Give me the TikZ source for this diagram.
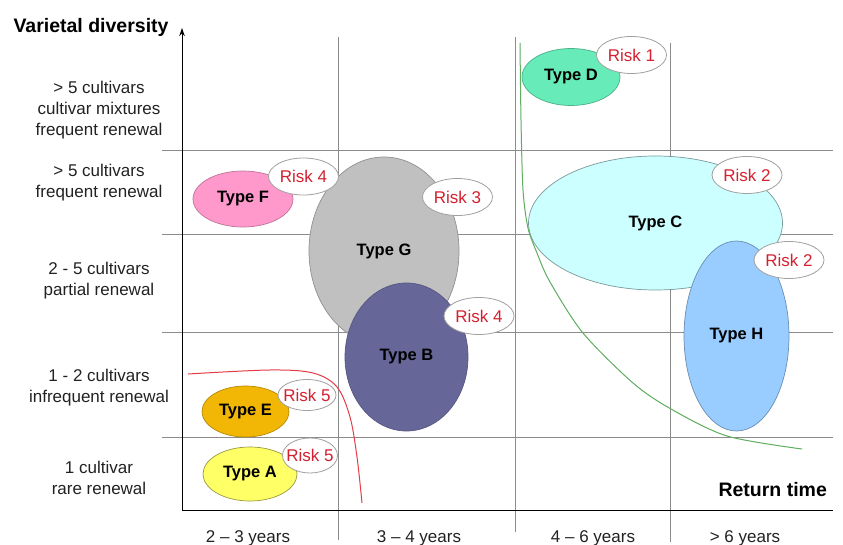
\documentclass[tikz,border=0pt]{standalone}
\usepackage{fontspec}
\setmainfont{Liberation Sans}
\usetikzlibrary{shapes.geometric,arrows.meta}
\definecolor{typeD}{HTML}{66EBB9}
\definecolor{typeC}{HTML}{CCFFFF}
\definecolor{typeH}{HTML}{99CCFF}
\definecolor{typeF}{HTML}{FF99CC}
\definecolor{typeG}{HTML}{C0C0C0}
\definecolor{typeB}{HTML}{666699}
\definecolor{typeE}{HTML}{F2B705}
\definecolor{typeA}{HTML}{FFFF66}
\definecolor{riskred}{HTML}{D4202F}
\definecolor{riskedge}{HTML}{A0A0A0}
\definecolor{redcurve}{HTML}{E43C46}
\definecolor{greencurve}{HTML}{5FAD5F}
\definecolor{gridgray}{HTML}{8C8C8C}
\definecolor{labelgray}{HTML}{222222}
\newcommand{\mb}[1]{\makebox[0pt]{#1}}
\begin{document}
\begin{tikzpicture}[x=1pt,y=-1pt,
  gridline/.style={draw=gridgray,line width=0.9pt},
  axisline/.style={draw=black,line width=1pt},
  typebox/.style={ellipse,inner sep=0pt,line width=0.7pt,text=black,
    font=\fontsize{16.5}{18}\selectfont\bfseries},
  riskbox/.style={ellipse,inner sep=0pt,fill=white,draw=riskedge,line width=0.8pt,
    text=riskred,font=\fontsize{17}{19}\selectfont,minimum width=70pt,minimum height=37pt},
  rowlabel/.style={align=center,text=labelgray,font=\fontsize{17}{21}\selectfont},
  collabel/.style={anchor=base,text=labelgray,font=\fontsize{17}{21}\selectfont},
  titlelabel/.style={anchor=base west,text=black,font=\fontsize{19.5}{22}\selectfont\bfseries}]
\useasboundingbox[fill=white] (0,0) rectangle (843,545);

% grid
\draw[gridline] (162,150) -- (833,150);
\draw[gridline] (162,234) -- (833,234);
\draw[gridline] (162,332) -- (833,332);
\draw[gridline] (162,437) -- (833,437);
\draw[gridline] (338,37) -- (338,540);
\draw[gridline] (515,37) -- (515,532);
\draw[gridline] (670,43) -- (670,542);

% axes
\coordinate (o) at (182,510);
\coordinate (ytop) at (182,28);
\coordinate (xend) at (833,510);
\draw[axisline,-{Stealth[length=8pt,width=5.5pt]}] (o) -- (ytop);
\draw[axisline] (o) -- (xend);

% labels
\node[titlelabel] (ytitle) at (10,33) {Varietal diversity};
\node[titlelabel] (xtitle) at (715,496) {Return time};
\node[rowlabel] (r1) at (99,110) {> 5 cultivars\\cultivar mixtures\\frequent renewal};
\node[rowlabel] (r2) at (99,183) {> 5 cultivars\\frequent renewal};
\node[rowlabel] (r3) at (99,281) {2 - 5 cultivars\\partial renewal};
\node[rowlabel] (r4) at (99,388) {1 - 2 cultivars\\infrequent renewal};
\node[rowlabel] (r5) at (99,478) {1 cultivar\\rare renewal};
\node[collabel] (c1) at (248,542) {2 – 3 years};
\node[collabel] (c2) at (419,542) {3 – 4 years};
\node[collabel] (c3) at (593,542) {4 – 6 years};
\node[collabel] (c4) at (745,542) {> 6 years};

% type ellipses
\node[typebox,fill=typeG,draw=typeG!75!black,minimum width=150pt,minimum height=188pt] (tG) at (384,251) {\mb{Type G}};
\node[typebox,fill=typeB,draw=typeB!85!black,minimum width=123pt,minimum height=148pt] (tB) at (406.5,357) {\mb{Type B}};
\node[typebox,fill=typeF,draw=typeF!75!black,minimum width=100pt,minimum height=56pt] (tF) at (243,199) {\mb{Type F}};
\node[typebox,fill=typeC,draw=typeC!60!black,minimum width=254pt,minimum height=134pt] (tC) at (655.5,223) {\mb{Type C}};
\node[typebox,fill=typeH,draw=typeH!70!black,minimum width=105pt,minimum height=190pt] (tH) at (736.5,336) {\mb{Type H}};
\node[typebox,fill=typeD,draw=typeD!75!black,minimum width=98pt,minimum height=57pt] (tD) at (571,77) {\mb{Type D}};
\node[typebox,fill=typeE,draw=typeE!75!black,minimum width=87pt,minimum height=51pt] (tE) at (245.5,411.5) {\mb{Type E}};
\node[typebox,fill=typeA,draw=typeA!60!black,minimum width=94pt,minimum height=54pt] (tA) at (250,474) {\mb{Type A}};

% risk ellipses
\node[riskbox] (k1) at (631.5,55) {\mb{Risk 1}};
\node[riskbox] (k2a) at (747,175) {\mb{Risk 2}};
\node[riskbox] (k2b) at (789,260) {\mb{Risk 2}};
\node[riskbox] (k4a) at (303.5,176.5) {\mb{Risk 4}};
\node[riskbox] (k3) at (457.5,197) {\mb{Risk 3}};
\node[riskbox] (k4b) at (479,316) {\mb{Risk 4}};
\node[riskbox,minimum width=58pt,minimum height=31pt] (k5a) at (307,395) {\mb{Risk 5}};
\node[riskbox,minimum width=55pt,minimum height=35pt] (k5b) at (310,455.5) {\mb{Risk 5}};

% curves
\draw[redcurve,line width=1pt] plot[smooth,tension=0.55] coordinates
  {(188,374) (270,370) (313,373) (337,387) (350,417) (357,457) (362,503)};
\draw[greencurve,line width=1pt] plot[smooth,tension=0.5] coordinates
  {(520,43) (521,120) (523,190) (528,228) (537,253) (550,282) (583,333) (633,383) (671,409) (727,436) (802,449)};
\end{tikzpicture}
\end{document}
